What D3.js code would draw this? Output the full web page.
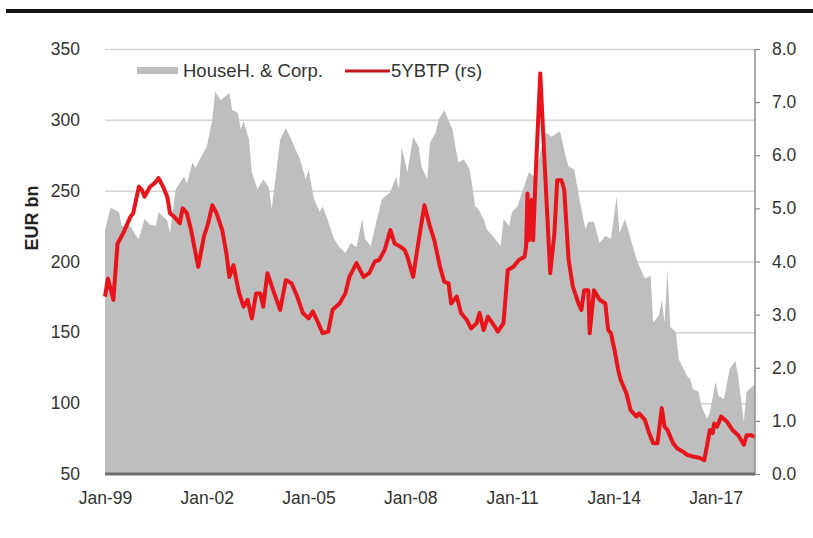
<!DOCTYPE html>
<html>
<head>
<meta charset="utf-8">
<script src="https://cdn.jsdelivr.net/npm/d3@7"></script>
<style>
  html, body { margin: 0; padding: 0; background: #fff; }
  svg { display: block; }
  text { font-family: "Liberation Sans", Arial, sans-serif; }
</style>
</head>
<body>
<svg id="chart" width="813" height="538"></svg>
<script>
// ---- DATA ----
const areaDates = ["1999-01","1999-03","1999-06","1999-07","1999-10","1999-12","2000-01","2000-03","2000-05","2000-07","2000-08","2000-11","2000-12",
  "2001-02","2001-05","2001-06","2001-08","2001-09","2001-11","2002-01","2002-03","2002-04","2002-06","2002-09","2002-10","2002-12",
  "2003-01","2003-02","2003-04","2003-05","2003-07","2003-09","2003-11","2003-12","2004-02","2004-03","2004-05","2004-07","2004-08","2004-10","2004-12",
  "2005-01","2005-03","2005-05","2005-06","2005-08","2005-10","2005-12","2006-02","2006-04","2006-06","2006-08","2006-09","2006-11",
  "2007-01","2007-03","2007-06","2007-08","2007-09","2007-10","2007-12","2008-02","2008-04","2008-05","2008-07","2008-08","2008-10","2008-11",
  "2009-01","2009-02","2009-04","2009-05","2009-06","2009-08","2009-10","2009-12","2010-01","2010-03","2010-04","2010-07","2010-09","2010-10","2010-12",
  "2011-01","2011-03","2011-05","2011-07","2011-09","2011-11","2012-01","2012-03","2012-06","2012-08","2012-09","2012-11",
  "2013-01","2013-03","2013-04","2013-06","2013-08","2013-10","2013-12","2014-02","2014-03","2014-05","2014-07","2014-09","2014-11","2014-12",
  "2015-02","2015-03","2015-05","2015-06","2015-07","2015-08","2015-09","2015-11","2015-12","2016-03","2016-04","2016-05","2016-07","2016-08","2016-10","2016-11",
  "2017-01","2017-02","2017-04","2017-06","2017-08","2017-09","2017-11","2017-12","2018-02","2018-03"];
const householdCorp = [222,238,235,225,225,218,216,230,226,225,235,229,220,
  251,260,255,270,266,274,281,300,320,314,319,307,305,
  293,299,286,263,251,258,252,237,270,286,294,286,281,272,258,
  265,244,235,239,228,216,210,206,213,210,230,216,211,
  228,244,249,260,251,281,263,288,281,267,258,284,291,300,
  307,302,293,281,270,272,265,239,237,230,223,216,211,230,225,
  235,239,251,263,260,277,291,288,292,274,267,265,
  242,223,228,228,213,218,216,246,220,230,216,202,192,188,
  190,157,162,173,157,194,154,150,131,119,117,110,108,98,89,94,
  115,105,103,124,130,119,87,108,112,112];

const btpDates = ["1999-01","1999-02","1999-04","1999-05-16","1999-07-16","1999-10","1999-11","2000-01","2000-02","2000-03","2000-05","2000-06-16","2000-08","2000-09-16","2000-11","2000-12",
  "2001-01-16","2001-03-16","2001-04-16","2001-06","2001-07-16","2001-10","2001-12","2002-01-16","2002-03","2002-04-16","2002-06-16","2002-08","2002-09","2002-10-16","2002-11-16","2002-12-16",
  "2003-02","2003-03-16","2003-05","2003-06-16","2003-08","2003-09","2003-10-16","2003-12-16","2004-03","2004-05","2004-07","2004-09","2004-11",
  "2005-01","2005-02-16","2005-04-16","2005-06","2005-08","2005-09-16","2005-12","2006-02","2006-03-16","2006-06","2006-08-16","2006-10-16","2006-12-16",
  "2007-02","2007-04","2007-06","2007-07-16","2007-09-16","2007-11","2007-12","2008-02","2008-04","2008-06","2008-08","2008-09-16","2008-11-16",
  "2009-01","2009-02-16","2009-03-16","2009-05-16","2009-07","2009-09","2009-10-16","2009-12-16","2010-01-16","2010-03","2010-04-16","2010-07","2010-08","2010-10","2010-11-16",
  "2011-01-16","2011-03-16","2011-05-16","2011-06","2011-06-16","2011-07","2011-08","2011-08-16","2011-09-16","2011-11","2011-12-16",
  "2012-02-16","2012-04","2012-05","2012-06-16","2012-07-16","2012-09","2012-10-16","2012-12-16",
  "2013-01-16","2013-02-16","2013-04","2013-04-16","2013-06","2013-08","2013-10","2013-11","2013-12",
  "2014-01-16","2014-02-16","2014-03-16","2014-05-16","2014-07","2014-09","2014-10","2014-12",
  "2015-01-16","2015-03","2015-04-16","2015-06","2015-07","2015-08","2015-10","2015-11-16",
  "2016-01-16","2016-03","2016-05","2016-07-16","2016-09","2016-11","2016-12","2016-12-16",
  "2017-01-16","2017-03","2017-05","2017-07","2017-09","2017-11","2017-12","2018-01-16","2018-03"];
const btp5y = [3.34,3.68,3.28,4.34,4.53,4.84,4.91,5.41,5.35,5.22,5.41,5.47,5.57,5.41,5.22,4.91,
  4.84,4.72,5.00,4.91,4.59,3.90,4.47,4.72,5.06,4.91,4.59,4.15,3.71,3.93,3.65,3.40,
  3.15,3.28,2.93,3.40,3.40,3.15,3.78,3.46,3.09,3.65,3.59,3.34,3.03,
  2.93,3.06,2.84,2.65,2.68,3.09,3.21,3.40,3.71,3.97,3.71,3.78,4.00,
  4.03,4.22,4.59,4.34,4.28,4.22,4.09,3.71,4.40,5.06,4.65,4.40,3.90,
  3.62,3.59,3.21,3.34,3.03,2.90,2.74,2.84,3.03,2.71,2.96,2.77,2.68,2.84,3.84,
  3.90,4.03,4.09,4.28,5.28,4.40,5.16,4.40,5.78,7.54,5.91,
  3.78,4.53,5.53,5.53,5.35,4.03,3.53,3.21,
  3.09,3.46,3.46,2.65,3.46,3.28,3.21,2.71,2.65,
  2.27,1.96,1.77,1.52,1.20,1.08,1.14,1.02,
  0.77,0.58,0.58,1.24,0.89,0.83,0.58,0.48,
  0.42,0.36,0.33,0.30,0.26,0.83,0.77,0.95,
  0.89,1.08,0.99,0.83,0.73,0.55,0.73,0.73,0.70];

const leftTicks = [50,100,150,200,250,300,350];
const rightTicks = [0,1,2,3,4,5,6,7,8];
const xTickYears = [1999,2002,2005,2008,2011,2014,2017];
const seriesNames = ["HouseH. & Corp.", "5YBTP (rs)"];
const yTitle = "EUR bn";

// ---- CHART ----
const parse = s => (s.length > 7 ? d3.timeParse("%Y-%m-%d")(s) : d3.timeParse("%Y-%m")(s));
const n = Math.min(areaDates.length, householdCorp.length);
const areaData = areaDates.slice(0, n).map((d, i) => ({ date: parse(d), v: householdCorp[i] }));
const m = Math.min(btpDates.length, btp5y.length);
const lineData = btpDates.slice(0, m).map((d, i) => ({ date: parse(d), v: btp5y[i] }));

const svg = d3.select("#chart");
const L = 105, R = 755, T = 49, B = 474;

const x = d3.scaleTime().domain([new Date(1999, 0, 1), new Date(2018, 2, 1)]).range([L, R]);
const yL = d3.scaleLinear().domain([50, 350]).range([B, T]);
const yR = d3.scaleLinear().domain([0, 8]).range([B, T]);

// top black rule
svg.append("line").attr("x1", 6).attr("x2", 813).attr("y1", 11).attr("y2", 11)
  .attr("stroke", "#111").attr("stroke-width", 4);

// gridlines
const grid = svg.append("g").attr("transform", `translate(${L},0)`)
  .call(d3.axisLeft(yL).tickValues(leftTicks.filter(v => v > 50)).tickSize(-(R - L)).tickFormat(""));
grid.select(".domain").remove();
grid.selectAll("line").attr("stroke", "#d4d4d4").attr("stroke-width", 1.5);

// area
svg.append("path").datum(areaData)
  .attr("fill", "#bebebe")
  .attr("d", d3.area().x(d => x(d.date)).y0(B).y1(d => yL(d.v)));

// line
svg.append("path").datum(lineData)
  .attr("fill", "none").attr("stroke", "#e8141b").attr("stroke-width", 4)
  .attr("stroke-linejoin", "round")
  .attr("d", d3.line().x(d => x(d.date)).y(d => yR(d.v)));

// left axis
const gL = svg.append("g").attr("transform", `translate(${L - 25},0)`)
  .call(d3.axisLeft(yL).tickValues(leftTicks).tickSize(0).tickPadding(0));
gL.select(".domain").remove();
gL.selectAll("text").attr("font-size", 17.5).attr("fill", "#333");

// right axis
const gR = svg.append("g").attr("transform", `translate(${R},0)`)
  .call(d3.axisRight(yR).tickValues(rightTicks).tickSize(5).tickPadding(12).tickFormat(d3.format(".1f")));
gR.select(".domain").attr("stroke", "#8c8c8c").attr("stroke-width", 1.5).attr("d", `M0,${T}V${B}`);
gR.selectAll(".tick line").attr("stroke", "#8c8c8c").attr("stroke-width", 1.2);
gR.selectAll("text").attr("font-size", 17.5).attr("fill", "#333");

// bottom axis
const gB = svg.append("g").attr("transform", `translate(0,${B})`)
  .call(d3.axisBottom(x).tickValues(xTickYears.map(yv => new Date(yv, 0, 1)))
    .tickSize(0).tickPadding(18).tickFormat(d3.timeFormat("%b-%y")));
gB.select(".domain").attr("stroke", "#6e6e6e").attr("stroke-width", 3).attr("d", `M${L},0H${R}`);
gB.selectAll("text").attr("font-size", 17.5).attr("fill", "#333");

// y title
svg.append("text").attr("transform", "translate(38,218) rotate(-90)")
  .attr("text-anchor", "middle").attr("font-size", 18).attr("font-weight", "bold").attr("fill", "#222")
  .text(yTitle);

// legend
const lg = svg.append("g");
lg.append("rect").attr("x", 137).attr("y", 67).attr("width", 41).attr("height", 7).attr("fill", "#bebebe");
lg.append("text").attr("x", 183).attr("y", 77).attr("font-size", 18.5).attr("fill", "#333").text(seriesNames[0]);
lg.append("line").attr("x1", 345).attr("x2", 390).attr("y1", 71).attr("y2", 71)
  .attr("stroke", "#c4161c").attr("stroke-width", 3);
lg.append("text").attr("x", 391).attr("y", 77).attr("font-size", 18.5).attr("fill", "#333").text(seriesNames[1]);
</script>
</body>
</html>
